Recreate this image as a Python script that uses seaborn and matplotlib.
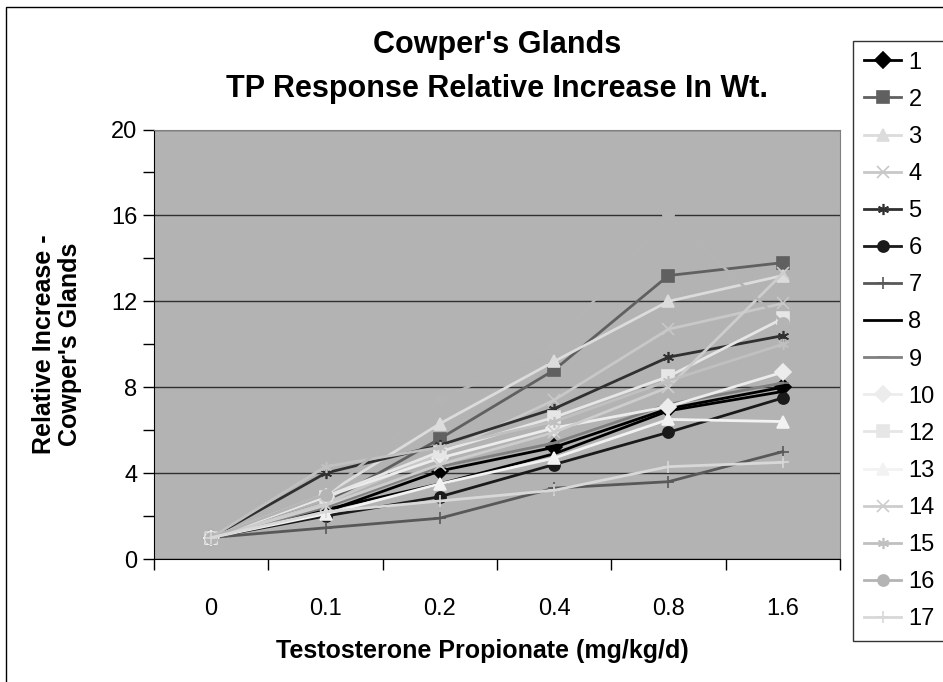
import numpy as np
import pandas as pd
import seaborn as sns
import matplotlib.pyplot as plt
from matplotlib.patches import Rectangle
from matplotlib.ticker import MultipleLocator

# doses (categories on x)
doses = ["0", "0.1", "0.2", "0.4", "0.8", "1.6"]

# relative increase per animal group
s1 = [1, 2.2, 4.1, 5.2, 7.0, 8.0]
s2 = [1, 2.6, 5.6, 8.8, 13.2, 13.8]
s3 = [1, 3.0, 6.3, 9.2, 12.0, 13.2]
s4 = [1, 2.6, 4.9, 7.4, 10.7, 11.9]
s5 = [1, 4.0, 5.3, 7.0, 9.4, 10.4]
s6 = [1, 2.0, 2.9, 4.4, 5.9, 7.5]
s7 = [1, 1.45, 1.9, 3.3, 3.6, 5.0]
s8 = [1, 2.3, 3.5, 4.9, 6.9, 7.8]
s9 = [1, 2.4, 4.3, 5.4, 7.2, 8.2]
s10 = [1, 2.9, 4.7, 6.1, 7.1, 8.7]
s12 = [1, 2.9, 5.0, 6.6, 8.5, 11.2]
s13 = [1, 2.1, 3.5, 4.7, 6.5, 6.4]
s14 = [1, 2.5, 4.4, 5.9, 8.0, 13.3]
s15 = [1, 4.3, 5.2, 6.4, 8.3, 10.0]
s16 = [1, 3.0, 7.4, 9.9, 16.0, 11.0]
s17 = [1, 2.2, 2.7, 3.2, 4.3, 4.5]

series_names = ["1", "2", "3", "4", "5", "6", "7", "8", "9", "10",
                "12", "13", "14", "15", "16", "17"]
series_vals = [s1, s2, s3, s4, s5, s6, s7, s8, s9, s10,
               s12, s13, s14, s15, s16, s17]

asterisk = (6, 2, 0)
colors = ["#000000", "#606060", "#dcdcdc", "#c8c8c8", "#303030", "#1a1a1a",
          "#585858", "#000000", "#808080", "#ececec", "#e6e6e6", "#f2f2f2",
          "#cdcdcd", "#c0c0c0", "#b4b4b4", "#d8d8d8"]
markers = ["D", "s", "^", "x", asterisk, "o", "+", None, "_", "D",
           "s", "^", "x", asterisk, "o", "+"]

plt.rcParams["font.family"] = ["Liberation Sans", "DejaVu Sans"]

fig = plt.figure(figsize=(9.43, 6.82), dpi=100)
ax = fig.add_axes([154/943, 1 - 559/682, (840-154)/943, (559-129.5)/682])
ax.set_facecolor("#b3b3b3")

xpos = np.arange(len(doses))
for name, vals, col, mk in zip(series_names, series_vals, colors, markers):
    df = pd.DataFrame({"dose": xpos, "val": vals})
    sns.lineplot(data=df, x="dose", y="val", ax=ax, color=col, marker=mk,
                 markersize=8, markeredgecolor=col, markeredgewidth=1.2,
                 linewidth=2, label=name, legend=False)

ax.set_xlim(-0.5, len(doses) - 0.5)
ax.set_ylim(0, 20)
ax.set_xticks(xpos)
ax.set_xticklabels(doses)
ax.set_xticks(np.arange(-0.5, len(doses)), minor=True)
ax.tick_params(axis="x", which="major", length=0, labelsize=17, pad=28)
ax.tick_params(axis="x", which="minor", length=8, width=1, direction="out")
ax.yaxis.set_major_locator(MultipleLocator(4))
ax.yaxis.set_minor_locator(MultipleLocator(2))
ax.tick_params(axis="y", which="major", length=8, width=1, labelsize=17, pad=4)
ax.tick_params(axis="y", which="minor", length=8, width=1)
ax.grid(axis="y", which="major", color="#303030", linewidth=1)
ax.set_axisbelow(True)
ax.set_xlabel("")
ax.set_ylabel("")

for side in ["left", "bottom"]:
    ax.spines[side].set_color("black")
for side in ["top", "right"]:
    ax.spines[side].set_color("#808080")

# titles and axis labels placed like the original chart
fig.text(497/943, 1 - 45/682, "Cowper's Glands", ha="center", va="center",
         fontsize=22, fontweight="bold")
fig.text(497/943, 1 - 89/682, "TP Response Relative Increase In Wt.",
         ha="center", va="center", fontsize=22, fontweight="bold")
fig.text(482/943, 1 - 651/682, "Testosterone Propionate (mg/kg/d)",
         ha="center", va="center", fontsize=18, fontweight="bold")
fig.text(57/943, 1 - 344/682, "Relative Increase -\nCowper's Glands",
         ha="center", va="center", rotation=90, fontsize=18,
         fontweight="bold", linespacing=1.15)

handles, labels = ax.get_legend_handles_labels()
leg = fig.legend(handles, labels, loc="upper left",
                 bbox_to_anchor=(853/943, 1 - 41/682), fontsize=17,
                 frameon=True, fancybox=False, edgecolor="black",
                 labelspacing=0.64, handlelength=1.6, handletextpad=0.3,
                 borderpad=0.45, borderaxespad=0)
leg.get_frame().set_linewidth(1)

# outer chart frame
fig.add_artist(Rectangle((6/943, -0.05), 1.1, 1 - 7/682 + 0.05,
                         transform=fig.transFigure, fill=False,
                         edgecolor="black", linewidth=1))

plt.savefig("out.png", dpi=100)
